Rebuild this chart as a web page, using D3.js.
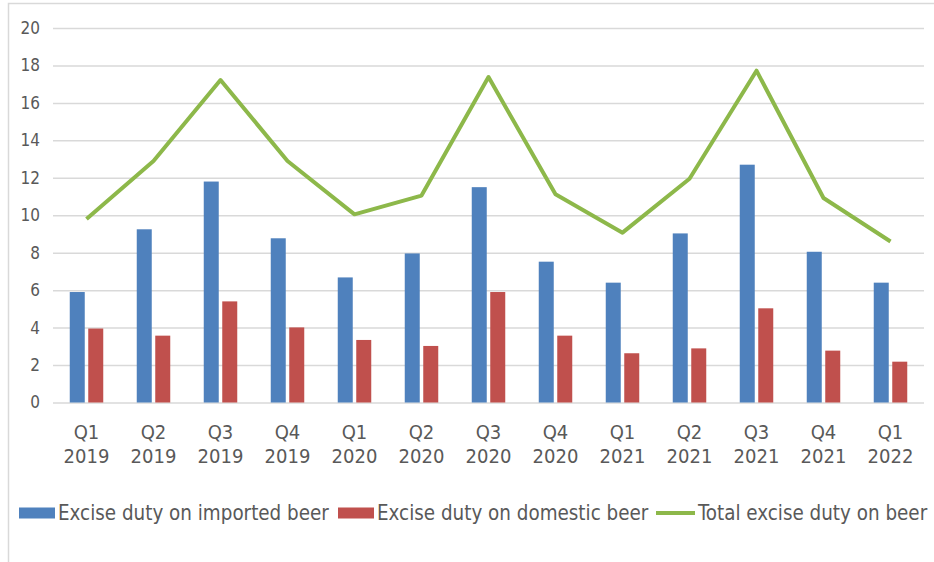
<!DOCTYPE html>
<html>
<head>
<meta charset="utf-8">
<script src="https://cdn.jsdelivr.net/npm/d3@7"></script>
<style>
  body { margin: 0; background: #fff; }
  text { font-family: "DejaVu Sans Condensed", "DejaVu Sans", sans-serif; font-stretch: condensed; fill: #595959; }
  .grid line { stroke: #d9d9d9; stroke-width: 1.5; }
  .grid path { display: none; }
</style>
</head>
<body>
<div id="chart"></div>
<script>
var quarters = ["Q1", "Q2", "Q3", "Q4", "Q1", "Q2", "Q3", "Q4", "Q1", "Q2", "Q3", "Q4", "Q1"];
var years = ["2019", "2019", "2019", "2019", "2020", "2020", "2020", "2020", "2021", "2021", "2021", "2021", "2022"];
var imported = [5.9, 9.25, 11.8, 8.77, 6.68, 7.96, 11.5, 7.52, 6.4, 9.03, 12.7, 8.05, 6.4];
var domestic = [3.95, 3.57, 5.4, 4.01, 3.34, 3.02, 5.9, 3.57, 2.63, 2.89, 5.03, 2.77, 2.18];
var total = [9.8, 12.9, 17.22, 12.9, 10.05, 11.05, 17.38, 11.12, 9.07, 11.95, 17.72, 10.92, 8.6];
var yTicks = [0, 2, 4, 6, 8, 10, 12, 14, 16, 18, 20];
var seriesNames = ["Excise duty on imported beer", "Excise duty on domestic beer", "Total excise duty on beer"];
var colors = ["#4f81bd", "#c0504d", "#8db84a"];

var W = 934, H = 562;
var margin = {top: 28, right: 10, bottom: 159, left: 53},
    width = 871,
    height = 374.5;

var svg = d3.select("#chart").append("svg")
  .attr("width", W)
  .attr("height", H);

// outer chart border
svg.append("rect")
  .attr("x", 8.5).attr("y", 3.5)
  .attr("width", W).attr("height", H)
  .attr("fill", "none")
  .attr("stroke", "#d9d9d9")
  .attr("stroke-width", 1.5);

var g = svg.append("g")
  .attr("transform", "translate(" + margin.left + "," + margin.top + ")");

var idx = d3.range(quarters.length);

var x = d3.scaleBand().domain(idx).range([0, width]);
var y = d3.scaleLinear().domain([0, 20]).range([height, 0]);

// gridlines
g.append("g")
  .attr("class", "grid")
  .call(d3.axisLeft(y).tickValues(yTicks).tickSize(-width).tickFormat(""));

// y tick labels
g.selectAll(".ylab").data(yTicks).enter().append("text")
  .attr("class", "ylab")
  .attr("x", -13)
  .attr("y", function(d) { return y(d); })
  .attr("dy", "0.35em")
  .attr("text-anchor", "end")
  .style("font-size", "17px")
  .text(function(d) { return d; });

// x labels, two lines
var xl = g.selectAll(".xlab").data(idx).enter().append("text")
  .attr("class", "xlab")
  .attr("text-anchor", "middle")
  .style("font-size", "20px")
  .attr("transform", function(d) { return "translate(" + (x(d) + x.bandwidth() / 2) + ",0)"; });
xl.append("tspan").attr("x", 0).attr("y", height + 29).attr("dy", "0.35em")
  .text(function(d) { return quarters[d]; });
xl.append("tspan").attr("x", 0).attr("y", height + 53).attr("dy", "0.35em")
  .text(function(d) { return years[d]; });

// bars
var barW = 15, gap = 3.5;
g.selectAll(".bar-imp").data(idx).enter().append("rect")
  .attr("class", "bar-imp")
  .attr("x", function(d) { return x(d) + x.bandwidth() / 2 - gap / 2 - barW; })
  .attr("y", function(d) { return y(imported[d]); })
  .attr("width", barW)
  .attr("height", function(d) { return height - y(imported[d]); })
  .attr("fill", colors[0]);

g.selectAll(".bar-dom").data(idx).enter().append("rect")
  .attr("class", "bar-dom")
  .attr("x", function(d) { return x(d) + x.bandwidth() / 2 + gap / 2; })
  .attr("y", function(d) { return y(domestic[d]); })
  .attr("width", barW)
  .attr("height", function(d) { return height - y(domestic[d]); })
  .attr("fill", colors[1]);

// total line
var line = d3.line()
  .x(function(d) { return x(d) + x.bandwidth() / 2; })
  .y(function(d) { return y(total[d]); });

g.append("path")
  .datum(idx)
  .attr("d", line)
  .attr("fill", "none")
  .attr("stroke", colors[2])
  .attr("stroke-width", 4)
  .attr("stroke-linejoin", "round");

// legend
var legY = 513;
var legItems = [
  {name: seriesNames[0], x: 19, type: "rect", color: colors[0]},
  {name: seriesNames[1], x: 338, type: "rect", color: colors[1]},
  {name: seriesNames[2], x: 656, type: "line", color: colors[2]}
];
var leg = svg.selectAll(".leg").data(legItems).enter().append("g")
  .attr("class", "leg")
  .attr("transform", function(d) { return "translate(" + d.x + "," + legY + ")"; });
leg.filter(function(d) { return d.type == "rect"; }).append("rect")
  .attr("x", 0).attr("y", -5.5)
  .attr("width", 36).attr("height", 11)
  .attr("fill", function(d) { return d.color; });
leg.filter(function(d) { return d.type == "line"; }).append("line")
  .attr("x1", 0).attr("x2", 39)
  .attr("y1", 0).attr("y2", 0)
  .attr("stroke", function(d) { return d.color; })
  .attr("stroke-width", 4);
leg.append("text")
  .attr("x", function(d) { return d.type == "rect" ? 39 : 42; })
  .attr("dy", "0.35em")
  .style("font-size", "20.4px")
  .text(function(d) { return d.name; });
</script>
</body>
</html>
